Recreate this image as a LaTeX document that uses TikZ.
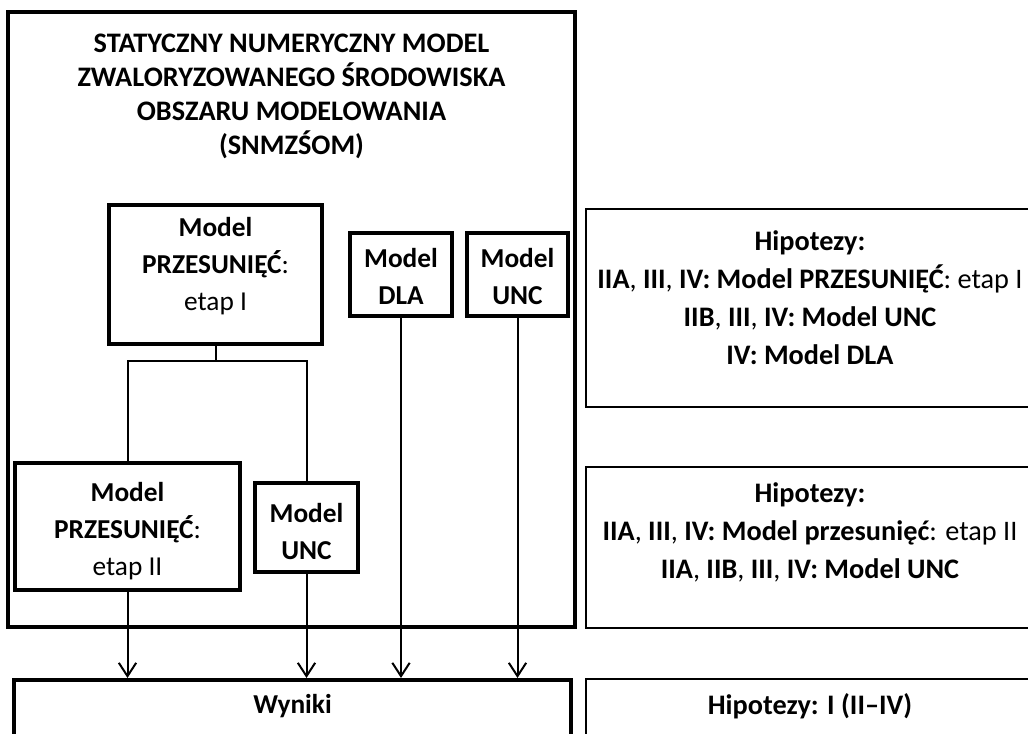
\documentclass[tikz,border=0pt]{standalone}
\usepackage{fontspec}
\setmainfont{Carlito}
\usetikzlibrary{arrows.meta}

\tikzset{every picture/.style={line width=0.75pt}}
\tikzset{
	wh/.style 2 args={minimum width=#1*0.75pt, minimum height=#2*0.75pt},
	frame/.style={draw, line width=3pt, inner sep=0pt},
	txt/.style={align=center, inner sep=0pt, font=\fontsize{20.5}{27.75}\selectfont},
	hipbox/.style={draw, line width=1.8pt, inner sep=0pt},
	hiptext/.style={align=center, inner sep=0pt, font=\fontsize{21.2}{28.5}\selectfont},
	conn/.style={line width=1.5pt},
	arr/.style={conn, -{Straight Barb[length=10pt,width=13pt]}}
}

\begin{document}
\begin{tikzpicture}[x=0.75pt,y=0.75pt,yscale=-1]
		\useasboundingbox (0,0) rectangle (1028,734);
		\clip (0,0) rectangle (1028,734);

		%outer frame and title
		\draw [line width=3pt] (8,12) rectangle (575,627) ;
		\draw (291.5,96) node [txt, font=\fontsize{21.2}{25.5}\selectfont\bfseries] (title) {STATYCZNY NUMERYCZNY MODEL\\ZWALORYZOWANEGO ŚRODOWISKA\\OBSZARU MODELOWANIA\\(SNMZŚOM)};

		%models
		\draw (215.5,274.5) node [frame, wh={213}{139}] (etapI) {};
		\draw (215.5,266.5) node [txt] (etapIT) {\textbf{Model}\\\textbf{PRZESUNIĘĆ}:\\etap I};
		\draw (401,274.5) node [frame, wh={102}{83}] (dla) {};
		\draw (401,276.5) node [txt] (dlaT) {\textbf{Model}\\\textbf{DLA}};
		\draw (517.5,274.5) node [frame, wh={101}{83}] (uncA) {};
		\draw (517.5,276.5) node [txt] (uncAT) {\textbf{Model}\\\textbf{UNC}};
		\draw (127.5,526.5) node [frame, wh={225}{127}] (etapII) {};
		\draw (127.5,531.5) node [txt] (etapIIT) {\textbf{Model}\\\textbf{PRZESUNIĘĆ}:\\etap II};
		\draw (306.5,527.5) node [frame, wh={103}{89}] (uncB) {};
		\draw (306.5,531.5) node [txt] (uncBT) {\textbf{Model}\\\textbf{UNC}};

		%results
		\draw (292.5,678) node [frame, anchor=north, wh={557}{120}] (wyniki) {};
		\draw (292.5,706) node [txt] (wynikiT) {\textbf{Wyniki}};

		%hypotheses
		\draw (585,208) node [hipbox, anchor=north west, wh={450}{198}] (hipI) {};
		\draw (810,298) node [hiptext] (hipIT) {\textbf{Hipotezy:}\\\textbf{IIA}, \textbf{III}, \textbf{IV: Model PRZESUNIĘĆ}: etap I\\\textbf{IIB}, \textbf{III}, \textbf{IV: Model UNC}\\\textbf{IV: Model DLA}};
		\draw (585,466) node [hipbox, anchor=north west, wh={450}{161}] (hipII) {};
		\draw (810,532) node [hiptext] (hipIIT) {\textbf{Hipotezy:}\\\textbf{IIA}, \textbf{III}, \textbf{IV: Model przesunięć}: etap II\\\textbf{IIA}, \textbf{IIB}, \textbf{III}, \textbf{IV: Model UNC}};
		\draw (585,678) node [hipbox, anchor=north west, wh={450}{120}] (hipIII) {};
		\draw (810,706) node [hiptext] (hipIIIT) {\textbf{Hipotezy: I (II–IV)}};

		%connectors
		\coordinate (jmid) at (215.5,361);
		\draw [conn] (etapI.south) -- (jmid) ;
		\draw [conn] (etapII.north) |- (jmid) -| (uncB.north) ;
		\draw [arr] (etapII.south) -- (etapII.south |- wyniki.north) ;
		\draw [arr] (uncB.south) -- (uncB.south |- wyniki.north) ;
		\draw [arr] (dla.south) -- (dla.south |- wyniki.north) ;
		\draw [arr] (uncA.south) -- (uncA.south |- wyniki.north) ;
\end{tikzpicture}
\end{document}
